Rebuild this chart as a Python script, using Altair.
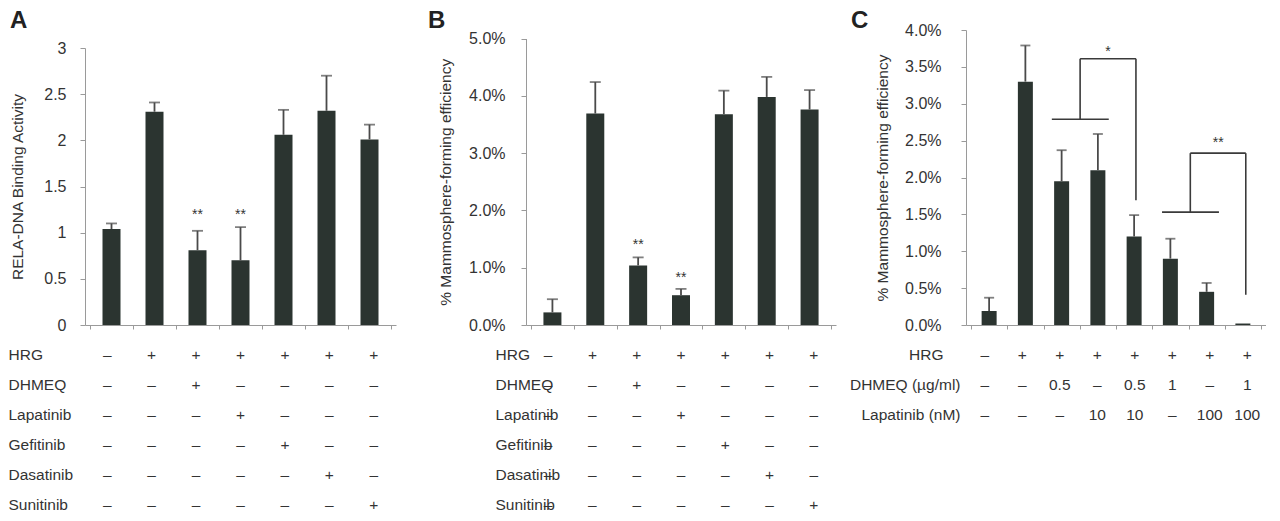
import altair as alt
import pandas as pd

FONT = "Liberation Sans"
BAR_COLOR = "#2b3430"
ERR_COLOR = "#4a4a4a"
AXIS_COLOR = "#9a9a9a"
TEXT_COLOR = "#333333"
BRACKET_COLOR = "#3a3a3a"

# ---------------- Panel A : RELA-DNA binding ----------------
a_mean = [1.04, 2.31, 0.81, 0.70, 2.06, 2.32, 2.01]
a_err = [1.10, 2.41, 1.02, 1.06, 2.33, 2.70, 2.17]
a_star_pos = [2, 3]
a_star_val = [1.23, 1.24]
a_star_txt = ["**", "**"]
a_yticks = [0, 0.5, 1, 1.5, 2, 2.5, 3]
a_rows = ["HRG", "DHMEQ", "Lapatinib", "Gefitinib", "Dasatinib", "Sunitinib"]
a_cells = [
    ["–", "+", "+", "+", "+", "+", "+"],
    ["–", "–", "+", "–", "–", "–", "–"],
    ["–", "–", "–", "+", "–", "–", "–"],
    ["–", "–", "–", "–", "+", "–", "–"],
    ["–", "–", "–", "–", "–", "+", "–"],
    ["–", "–", "–", "–", "–", "–", "+"],
]

# ---------------- Panel B : mammosphere (%) ----------------
b_mean = [0.22, 3.69, 1.04, 0.52, 3.68, 3.98, 3.76]
b_err = [0.45, 4.24, 1.18, 0.63, 4.09, 4.33, 4.10]
b_star_pos = [2, 3]
b_star_val = [1.47, 0.89]
b_star_txt = ["**", "**"]
b_yticks = [0, 1, 2, 3, 4, 5]
b_rows = ["HRG", "DHMEQ", "Lapatinib", "Gefitinib", "Dasatinib", "Sunitinib"]
b_cells = [
    ["–", "+", "+", "+", "+", "+", "+"],
    ["–", "–", "+", "–", "–", "–", "–"],
    ["–", "–", "–", "+", "–", "–", "–"],
    ["–", "–", "–", "–", "+", "–", "–"],
    ["–", "–", "–", "–", "–", "+", "–"],
    ["–", "–", "–", "–", "–", "–", "+"],
]

# ---------------- Panel C : combinations (%) ----------------
c_mean = [0.19, 3.30, 1.95, 2.10, 1.20, 0.90, 0.45, 0.02]
c_err = [0.37, 3.79, 2.37, 2.59, 1.49, 1.17, 0.57, None]
c_star_pos = [3.28, 6.32]
c_star_val = [3.76, 2.52]
c_star_txt = ["*", "**"]
c_yticks = [0, 0.5, 1, 1.5, 2, 2.5, 3, 3.5, 4]
# bracket segments (x1, x2, y1, y2) in bar-index / percent units
c_seg_x1 = [1.73, 2.51, 2.51, 4.05, 4.77, 5.55, 5.55, 7.08]
c_seg_x2 = [3.30, 2.51, 4.05, 4.05, 6.34, 5.55, 7.08, 7.08]
c_seg_y1 = [2.79, 2.79, 3.61, 3.61, 1.53, 1.53, 2.33, 2.33]
c_seg_y2 = [2.79, 3.61, 3.61, 1.69, 1.53, 2.33, 2.33, 0.41]
c_rows = ["HRG", "DHMEQ (µg/ml)", "Lapatinib (nM)"]
c_cells = [
    ["–", "+", "+", "+", "+", "+", "+", "+"],
    ["–", "–", "0.5", "–", "0.5", "1", "–", "1"],
    ["–", "–", "–", "10", "10", "–", "100", "100"],
]

PLOT_H = 295
ROW_STEP = 30


def bar_panel(mean, err, star_pos, star_val, star_txt, yticks, ymax, ylabel,
              pct, width, range_top, bar_size, cap_size, letter, letter_dx,
              label_pad, title_pad, segs=None):
    n = len(mean)
    df = pd.DataFrame({"i": list(range(n)), "v": mean, "e": err})
    sdf = pd.DataFrame({"i": star_pos, "s": star_val, "t": star_txt})
    xscale = alt.Scale(domain=[-0.5, n - 0.5], nice=False, zero=False)
    xaxis = alt.Axis(values=[k - 0.5 for k in range(n + 1)], labels=False,
                     title=None, grid=False, tickSize=4, tickColor=AXIS_COLOR,
                     domainColor=AXIS_COLOR, tickWidth=1, domainWidth=1)
    yscale = alt.Scale(domain=[0, ymax], nice=False, zero=True,
                       range=[PLOT_H, range_top])
    yaxis_kw = dict(values=yticks, title=ylabel, grid=False, tickSize=5,
                    tickColor=AXIS_COLOR, domainColor=AXIS_COLOR,
                    labelFontSize=16, labelColor=TEXT_COLOR, labelFont=FONT,
                    labelPadding=label_pad, titleFont=FONT, titleFontSize=15.5,
                    titleFontWeight="normal", titleColor=TEXT_COLOR,
                    titlePadding=title_pad)
    if pct:
        yaxis_kw["labelExpr"] = "format(datum.value, '.1f') + '%'"
    else:
        yaxis_kw["format"] = ".1~f"
    yaxis = alt.Axis(**yaxis_kw)

    def X(field="i:Q"):
        return alt.X(field, scale=xscale, axis=xaxis)

    def Y(field):
        return alt.Y(field, scale=yscale, axis=yaxis)

    bars = alt.Chart(df).mark_bar(size=bar_size, color=BAR_COLOR).encode(
        x=X(), y=Y("v:Q"))
    whisk = alt.Chart(df).transform_filter("isValid(datum.e)").mark_rule(
        color=ERR_COLOR, strokeWidth=1.8).encode(x=X(), y=Y("v:Q"), y2="e:Q")
    cap = alt.Chart(df).transform_filter("isValid(datum.e)").mark_tick(
        color=ERR_COLOR, thickness=1.8, size=cap_size, orient="horizontal"
    ).encode(x=X(), y=Y("e:Q"))
    stars = alt.Chart(sdf).mark_text(
        font=FONT, fontSize=14, color=TEXT_COLOR, baseline="alphabetic", dy=8
    ).encode(x=X(), y=Y("s:Q"), text="t:N")
    panel_letter = alt.Chart(pd.DataFrame({"t": [letter]})).mark_text(
        font=FONT, fontSize=24, fontWeight="bold", color="#222222",
        align="left", baseline="alphabetic"
    ).encode(x=alt.value(letter_dx), y=alt.value(-2.5), text="t:N")
    layers = [bars, whisk, cap, stars, panel_letter]
    if segs is not None:
        gdf = pd.DataFrame({"x1": segs[0], "x2": segs[1], "y1": segs[2], "y2": segs[3]})
        layers.append(alt.Chart(gdf).mark_rule(
            color=BRACKET_COLOR, strokeWidth=1.6).encode(
            x=X("x1:Q"), x2="x2:Q", y=Y("y1:Q"), y2="y2:Q"))
    return alt.layer(*layers).properties(width=width, height=PLOT_H)


def table_panel(rows, cells, width, label_align, label_pad):
    n = len(cells[0])
    recs = []
    for r, row in zip(rows, cells):
        for i, t in enumerate(row):
            recs.append({"row": r, "i": i, "t": t})
    tdf = pd.DataFrame(recs)
    h = ROW_STEP * (len(rows) - 1 + 0.4)
    return alt.Chart(tdf).mark_text(
        font=FONT, fontSize=15.5, color=TEXT_COLOR, baseline="middle"
    ).encode(
        x=alt.X("i:Q", scale=alt.Scale(domain=[-0.5, n - 0.5], nice=False,
                                      zero=False), axis=None),
        y=alt.Y("row:N", sort=rows,
                scale=alt.Scale(type="point", padding=0.2),
                axis=alt.Axis(title=None, domain=False, ticks=False, tickSize=0,
                              grid=False, labelAlign=label_align,
                              labelPadding=label_pad, labelFont=FONT,
                              labelFontSize=15.5, labelColor=TEXT_COLOR,
                              labelBaseline="middle", labelLimit=300)),
        text="t:N",
    ).properties(width=width, height=h)


a_top = bar_panel(a_mean, a_err, a_star_pos, a_star_val, a_star_txt, a_yticks,
                  3, "RELA-DNA Binding Activity", False, 311, 18, 18, 11,
                  "A", -75, 14, 18)
b_top = bar_panel(b_mean, b_err, b_star_pos, b_star_val, b_star_txt, b_yticks,
                  5, "% Mammosphere-forming efficiency", True, 310, 8.5, 18, 11,
                  "B", -98, 16, 15)
c_top = bar_panel(c_mean, c_err, c_star_pos, c_star_val, c_star_txt, c_yticks,
                  4, "% Mammosphere-forming efficiency", True, 300, 0, 15, 10,
                  "C", -115, 20, 14,
                  segs=(c_seg_x1, c_seg_x2, c_seg_y1, c_seg_y2))

a_tab = table_panel(a_rows, a_cells, 311, "left", 77)
b_tab = table_panel(b_rows, b_cells, 310, "left", 31)
c_tab = table_panel(
    c_rows, c_cells, 300, "right",
    {"condition": {"test": "datum.value === 'HRG'", "value": 23}, "value": 6})

chart = alt.concat(
    a_top, b_top, c_top, a_tab, b_tab, c_tab,
    columns=3,
    spacing={"row": 23.5, "column": 130},
    bounds="flush",
    align="each",
    padding=0,
).configure(font=FONT).configure_view(stroke=None)

chart.save("out.html", embed_options={"renderer": "svg", "actions": False})
